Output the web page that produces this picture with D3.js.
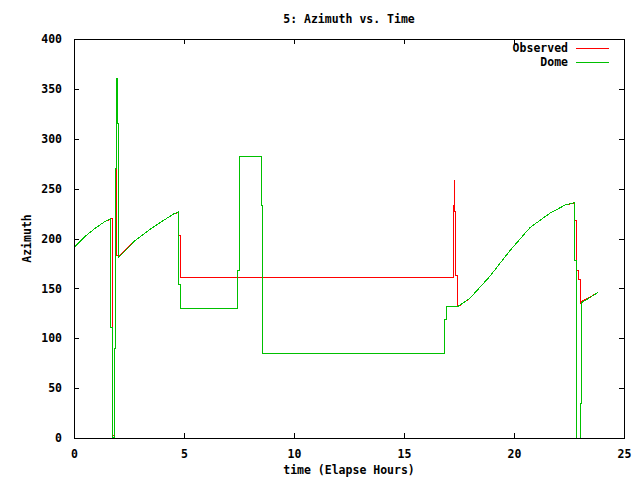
<!DOCTYPE html>
<html>
<head>
<meta charset="utf-8">
<script src="https://cdn.jsdelivr.net/npm/d3@7"></script>
<style>
  body { margin: 0; background: #fff; }
  text { font-family: "DejaVu Sans Mono", monospace; font-size: 11.5px; font-weight: bold; fill: #000; }
</style>
</head>
<body>
<div id="chart"></div>
<script>
// series values, [elapsed hours, azimuth]
var observed = [
  [0, 191], [0.5, 202], [0.95, 210], [1.4, 217], [1.73, 220],
  [1.73, 3], [1.86, 3], [1.86, 90], [1.87, 90], [1.87, 270], [1.95, 270], [1.95, 183],
  [2.03, 182], [2.78, 198], [3.38, 208], [3.99, 217], [4.52, 224.5], [4.73, 226],
  [4.73, 209], [4.77, 209], [4.77, 203], [4.82, 203], [4.82, 176], [4.83, 176], [4.83, 160.5],
  [17.23, 160.5], [17.23, 185], [17.26, 185], [17.26, 233], [17.29, 233], [17.29, 258.5],
  [17.31, 258.5], [17.31, 227], [17.36, 227], [17.36, 163], [17.41, 163], [17.41, 131.5],
  [17.45, 131.5],
  [17.99, 140], [18.9, 162], [19.82, 188], [20.73, 211], [21.64, 225.5], [22.32, 233.5], [22.72, 235.5],
  [22.77, 235.5], [22.77, 218.5], [22.82, 218.5], [22.82, 185], [22.86, 185], [22.86, 168],
  [22.95, 168], [22.95, 159], [23.0, 159], [23.0, 135],
  [23.09, 137], [23.83, 146]
];
var dome = [
  [0, 191], [0.5, 202], [0.95, 210], [1.4, 217], [1.68, 220],
  [1.68, 111], [1.74, 111], [1.74, 1], [1.83, 1], [1.83, 90], [1.87, 90], [1.87, 270],
  [1.92, 270], [1.92, 360], [1.96, 360], [1.96, 315], [2.01, 315], [2.01, 226], [2.03, 226], [2.03, 181],
  [2.78, 198], [3.38, 208], [3.99, 217], [4.52, 224.5], [4.74, 226.5],
  [4.74, 154], [4.83, 154], [4.83, 130],
  [7.42, 130], [7.42, 168], [7.5, 168], [7.5, 282.5],
  [8.51, 282.5], [8.51, 233], [8.55, 233], [8.55, 135], [8.59, 135], [8.59, 85],
  [16.82, 85], [16.82, 96], [16.86, 96], [16.86, 119], [16.95, 119], [16.95, 131.5],
  [17.42, 131.5],
  [17.99, 140], [18.9, 162], [19.82, 188], [20.73, 211], [21.64, 225.5], [22.32, 233.5], [22.76, 236],
  [22.76, 178], [22.82, 178], [22.82, 60], [22.86, 60], [22.86, 0],
  [23.0, 0], [23.0, 35], [23.05, 35], [23.05, 102.5], [23.09, 102.5], [23.09, 136],
  [23.83, 146]
];
var xTicks = [0, 5, 10, 15, 20, 25];
var yTicks = [0, 50, 100, 150, 200, 250, 300, 350, 400];
var seriesNames = ["Observed", "Dome"];
var seriesColors = ["#ff0000", "#00c000"];

var width = 640, height = 480;
var margin = {top: 39, right: 16, bottom: 42, left: 74};
var plotW = width - margin.left - margin.right,
    plotH = height - margin.top - margin.bottom;

var svg = d3.select("#chart").append("svg")
  .attr("width", width)
  .attr("height", height);

var x = d3.scaleLinear().domain([0, 25]).range([0, plotW]);
var y = d3.scaleLinear().domain([0, 400]).range([plotH, 0]);

var g = svg.append("g")
  .attr("transform", "translate(" + margin.left + "," + margin.top + ")");

// axes: gnuplot style, ticks inside and mirrored
var tick = 5;
g.append("g").attr("transform", "translate(0," + plotH + ")")
  .call(d3.axisBottom(x).tickValues(xTicks).tickSize(-tick).tickPadding(12).tickFormat(d3.format("d")));
g.append("g")
  .call(d3.axisTop(x).tickValues(xTicks).tickSize(-tick).tickFormat(""));
g.append("g")
  .call(d3.axisLeft(y).tickValues(yTicks).tickSize(-tick).tickPadding(12).tickFormat(d3.format("d")));
g.append("g").attr("transform", "translate(" + plotW + ",0)")
  .call(d3.axisRight(y).tickValues(yTicks).tickSize(-tick).tickFormat(""));
g.selectAll(".domain").remove();
g.selectAll(".tick line").attr("stroke", "#000").attr("shape-rendering", "crispEdges");
g.selectAll(".tick text").attr("font-family", null).attr("font-size", null);

// lines
var line = d3.line()
  .x(function(d) { return x(d[0]); })
  .y(function(d) { return y(d[1]); });

[observed, dome].forEach(function(s, i) {
  g.append("path")
    .datum(s)
    .attr("d", line)
    .attr("fill", "none")
    .attr("stroke", seriesColors[i])
    .attr("stroke-width", 1)
    .attr("shape-rendering", "crispEdges");
});

// border
g.append("rect")
  .attr("x", 0.5).attr("y", 0.5)
  .attr("width", plotW).attr("height", plotH)
  .attr("fill", "none")
  .attr("stroke", "#000")
  .attr("shape-rendering", "crispEdges");

// legend
seriesNames.forEach(function(name, i) {
  var ly = 48 + i * 14;
  svg.append("text")
    .attr("x", 568).attr("y", ly)
    .attr("dy", "0.35em")
    .attr("text-anchor", "end")
    .text(name);
  svg.append("line")
    .attr("x1", 576).attr("x2", 609)
    .attr("y1", ly + 0.5).attr("y2", ly + 0.5)
    .attr("stroke", seriesColors[i])
    .attr("shape-rendering", "crispEdges");
});

// titles
svg.append("text")
  .attr("x", margin.left + plotW / 2).attr("y", 19)
  .attr("dy", "0.35em")
  .attr("text-anchor", "middle")
  .text("5: Azimuth vs. Time");
svg.append("text")
  .attr("x", margin.left + plotW / 2).attr("y", 470)
  .attr("dy", "0.35em")
  .attr("text-anchor", "middle")
  .text("time (Elapse Hours)");
svg.append("text")
  .attr("transform", "translate(27," + (margin.top + plotH / 2) + ") rotate(-90)")
  .attr("dy", "0.35em")
  .attr("text-anchor", "middle")
  .text("Azimuth");
</script>
</body>
</html>
